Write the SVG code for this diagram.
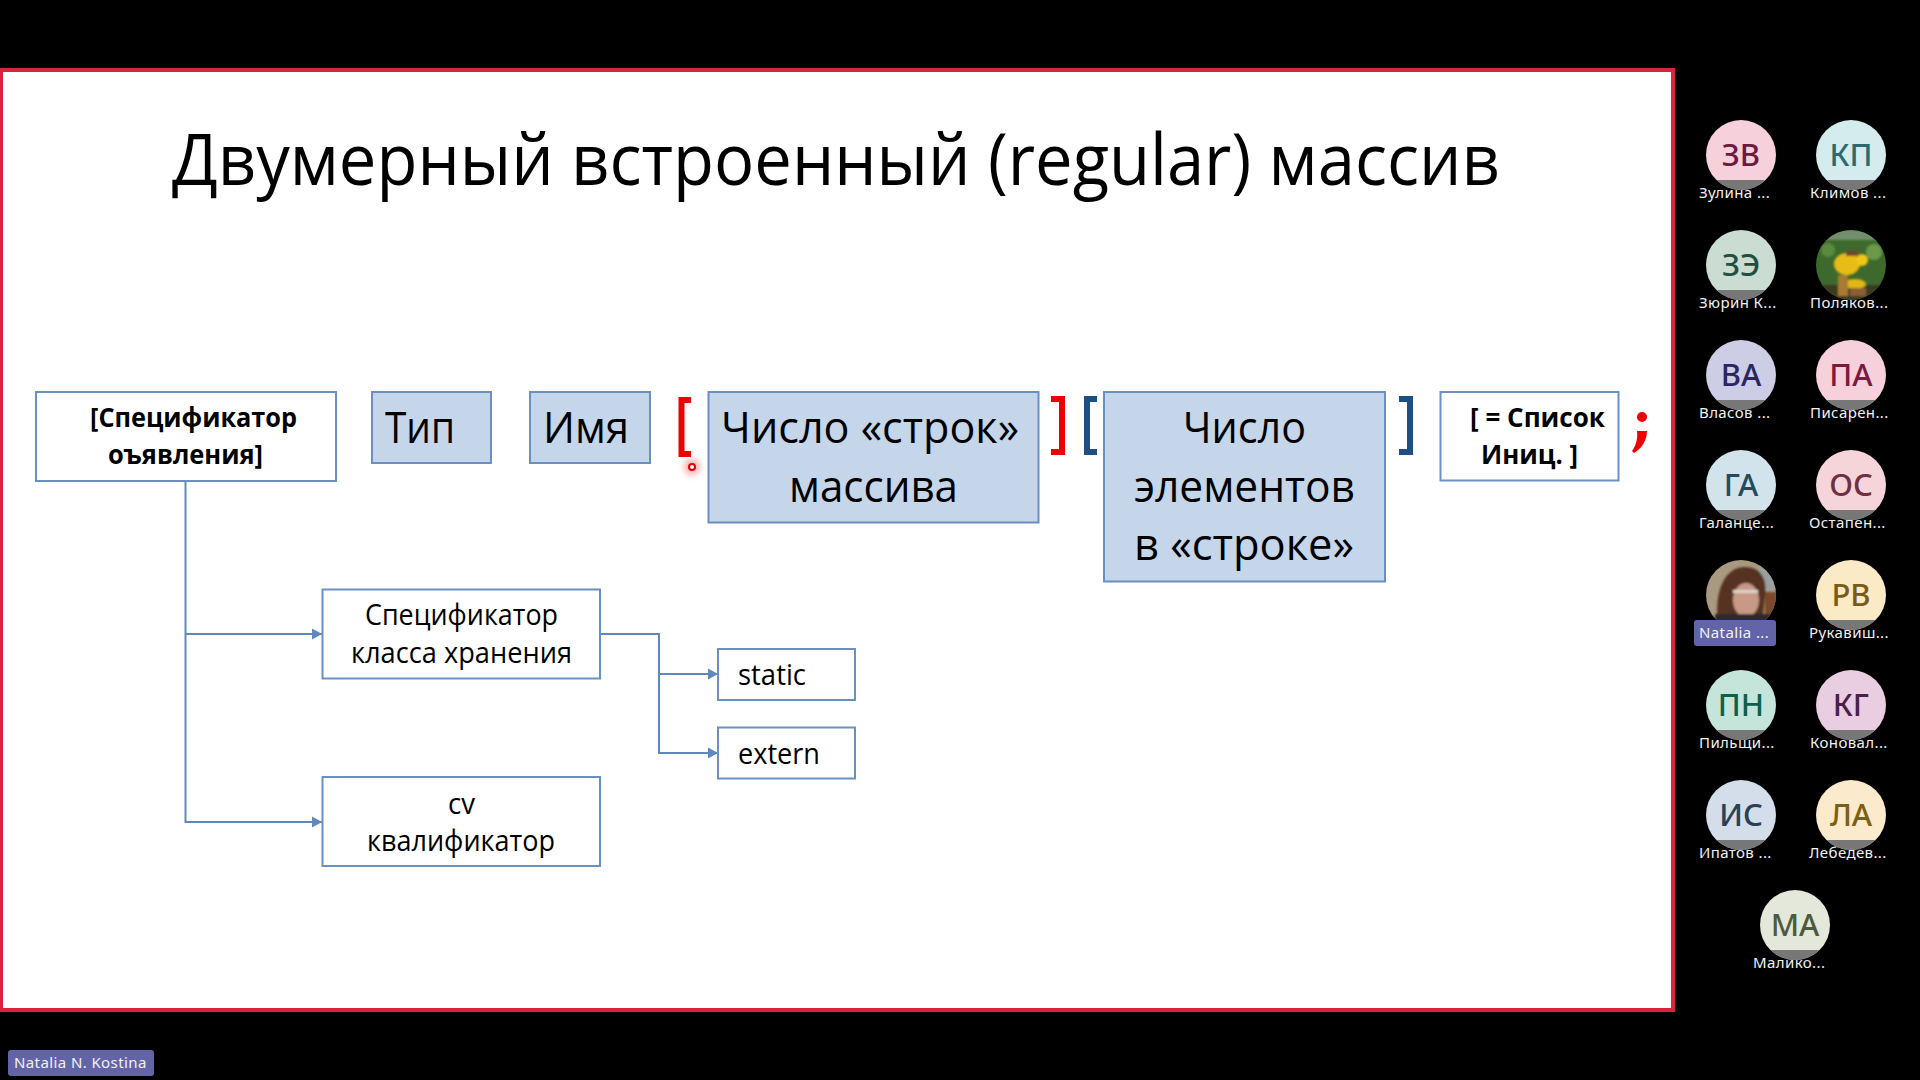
<svg xmlns="http://www.w3.org/2000/svg" width="1920" height="1080" viewBox="0 0 1920 1080">
<style>
.t{font-family:"Open Sans","Noto Sans","Liberation Sans",sans-serif;fill:#000}
.l{font-size:44px}.m{font-size:29px}.b{font-size:27px;font-weight:700}
.f{fill:#c5d5ea;stroke:#6a90c2;stroke-width:2}
.w{fill:#fff;stroke:#6a90c2;stroke-width:2}
.c{fill:none;stroke:#5f88bd;stroke-width:2}
.n{font-family:"Noto Sans","Open Sans",sans-serif;font-size:15px;letter-spacing:.4px;fill:#f2f2f2}
.i{font-family:"Noto Sans","Open Sans",sans-serif;font-size:31px;font-weight:500;text-anchor:middle}
</style>
<defs>
<marker id="a" markerUnits="userSpaceOnUse" markerWidth="11" markerHeight="12" refX="10" refY="6" orient="auto"><path d="M0,0.500L10,6L0,11.500Z" fill="#5f88bd"/></marker>
<path id="band" d="M-24.5,25A35,35 0 0 0 24.5,25Z" fill="#777"/>
<clipPath id="c1"><circle cx="1851" cy="265" r="35"/></clipPath>
<clipPath id="c2"><circle cx="1741" cy="595" r="35"/></clipPath>
<filter id="bl" x="-20%" y="-20%" width="140%" height="140%"><feGaussianBlur stdDeviation="1"/></filter>
<filter id="gl" x="-100%" y="-100%" width="300%" height="300%"><feGaussianBlur stdDeviation="3"/></filter>
</defs>
<rect width="1920" height="1080" fill="#000"/>
<rect id="slide" x="1" y="70" width="1672" height="940" fill="#fff" stroke="#d9243f" stroke-width="4"/>
<text class="t" x="172" y="185" font-size="72" textLength="1328" lengthAdjust="spacingAndGlyphs">Двумерный встроенный (regular) массив</text>

<g id="connectors">
<path class="c" d="M185.500,481V822H322" marker-end="url(#a)"/>
<path class="c" d="M185.500,634H322" marker-end="url(#a)"/>
<path class="c" d="M600,634H659V753H718" marker-end="url(#a)"/>
<path class="c" d="M659,674H718" marker-end="url(#a)"/>
</g>

<g id="n-spec"><rect class="w" x="36" y="392" width="300" height="89"/>
<text class="t b" x="90" y="427" textLength="207" lengthAdjust="spacingAndGlyphs">[Спецификатор</text>
<text class="t b" x="108" y="464" textLength="155" lengthAdjust="spacingAndGlyphs">оъявления]</text></g>
<g id="n-type"><rect class="f" x="372" y="392" width="119" height="71"/>
<text class="t l" x="385" y="443" textLength="70" lengthAdjust="spacingAndGlyphs">Тип</text></g>
<g id="n-name"><rect class="f" x="530" y="392" width="120" height="71"/>
<text class="t l" x="543" y="443" textLength="86" lengthAdjust="spacingAndGlyphs">Имя</text></g>
<g id="n-rows"><rect class="f" x="708.500" y="392" width="330" height="130.500"/>
<text class="t l" x="721" y="443" textLength="298" lengthAdjust="spacingAndGlyphs">Число «строк»</text>
<text class="t l" x="789" y="502" textLength="169" lengthAdjust="spacingAndGlyphs">массива</text></g>
<g id="n-cols"><rect class="f" x="1104" y="392" width="281" height="189.500"/>
<text class="t l" x="1183" y="443" textLength="123" lengthAdjust="spacingAndGlyphs">Число</text>
<text class="t l" x="1134" y="502" textLength="221" lengthAdjust="spacingAndGlyphs">элементов</text>
<text class="t l" x="1134" y="560" textLength="220" lengthAdjust="spacingAndGlyphs">в «строке»</text></g>
<g id="n-init"><rect class="w" x="1440.500" y="392" width="178" height="88.500"/>
<text class="t b" x="1470" y="427" textLength="135" lengthAdjust="spacingAndGlyphs">[ = Список</text>
<text class="t b" x="1481" y="464" textLength="97" lengthAdjust="spacingAndGlyphs">Иниц. ]</text></g>
<g id="n-storage"><rect class="w" x="322.500" y="589.500" width="277.500" height="89"/>
<text class="t m" x="365" y="625" textLength="193" lengthAdjust="spacingAndGlyphs">Спецификатор</text>
<text class="t m" x="351" y="663" textLength="221" lengthAdjust="spacingAndGlyphs">класса хранения</text></g>
<g id="n-cv"><rect class="w" x="322.500" y="777" width="277.500" height="89"/>
<text class="t m" x="448" y="814" textLength="27" lengthAdjust="spacingAndGlyphs">cv</text>
<text class="t m" x="367" y="851" textLength="188" lengthAdjust="spacingAndGlyphs">квалификатор</text></g>
<g id="n-static"><rect class="w" x="718" y="649" width="137" height="51"/>
<text class="t m" x="738" y="685" textLength="68" lengthAdjust="spacingAndGlyphs">static</text></g>
<g id="n-extern"><rect class="w" x="718" y="727.500" width="137" height="51"/>
<text class="t m" x="738" y="764" textLength="82" lengthAdjust="spacingAndGlyphs">extern</text></g>

<g id="brackets" fill="none" stroke-width="6">
<path d="M691,400H681.500V454H691" stroke="#f00000"/>
<path d="M1051,399H1062V452H1051" stroke="#f00000"/>
<path d="M1097,399H1087V452H1097" stroke="#1f4e82"/>
<path d="M1399,399H1410V452H1399" stroke="#1f4e82"/>
</g>
<g id="semicolon" fill="#f00000"><circle cx="1642" cy="417" r="5"/><path d="M1637,431H1647C1647,441 1641,449 1634,453L1632,451C1636,446 1638,438 1637,431Z"/></g>
<g id="cursor"><circle cx="692" cy="467" r="8" fill="#ff6b6b" opacity=".55" filter="url(#gl)"/><circle cx="692" cy="467" r="3" fill="#fff" stroke="#e00000" stroke-width="2"/></g>

<g id="p-zv"><circle cx="1741" cy="155" r="35" fill="#f6d1dc"/><use href="#band" x="1741" y="155"/><text class="i" x="1741" y="166" fill="#6b1a40">ЗВ</text><text class="n" x="1699" y="198">Зулина ...</text></g>
<g id="p-kp"><circle cx="1851" cy="155" r="35" fill="#d5ecee"/><use href="#band" x="1851" y="155"/><text class="i" x="1851" y="166" fill="#2b6a70">КП</text><text class="n" x="1810" y="198">Климов ...</text></g>
<g id="p-ze"><circle cx="1741" cy="265" r="35" fill="#cbdcd3"/><use href="#band" x="1741" y="265"/><text class="i" x="1741" y="276" fill="#1f5040">ЗЭ</text><text class="n" x="1699" y="308">Зюрин К...</text></g>
<g id="p-pol"><circle cx="1851" cy="265" r="35" fill="#3d6a2c"/><g clip-path="url(#c1)"><g filter="url(#bl)"><rect x="1816" y="230" width="70" height="10" fill="#6f8f6a"/><circle cx="1828" cy="250" r="7" fill="#5a8a40"/><circle cx="1874" cy="252" r="8" fill="#6a9a48"/><rect x="1816" y="285" width="70" height="15" fill="#3a3a20"/><ellipse cx="1847" cy="264" rx="13" ry="11" fill="#e8bc14"/><circle cx="1862" cy="260" r="6" fill="#f0c818"/><ellipse cx="1855" cy="284" rx="11" ry="5" fill="#e0b818"/><rect x="1846" y="250" width="12" height="6" fill="#6a4a30"/><path d="M1838,275L1848,275L1848,296H1838Z" fill="#a87a30"/><path d="M1850,288L1866,288L1866,296H1850Z" fill="#8a6030"/></g></g><text class="n" x="1810" y="308">Поляков...</text></g>
<g id="p-va"><circle cx="1741" cy="375" r="35" fill="#cdcde6"/><use href="#band" x="1741" y="375"/><text class="i" x="1741" y="386" fill="#2c2560">ВА</text><text class="n" x="1699" y="418">Власов ...</text></g>
<g id="p-pa"><circle cx="1851" cy="375" r="35" fill="#f6d1dc"/><use href="#band" x="1851" y="375"/><text class="i" x="1851" y="386" fill="#7a1a3f">ПА</text><text class="n" x="1810" y="418">Писарен...</text></g>
<g id="p-ga"><circle cx="1741" cy="485" r="35" fill="#d3e3ec"/><use href="#band" x="1741" y="485"/><text class="i" x="1741" y="496" fill="#254a58">ГА</text><text class="n" x="1699" y="528">Галанце...</text></g>
<g id="p-os"><circle cx="1851" cy="485" r="35" fill="#f6d5da"/><use href="#band" x="1851" y="485"/><text class="i" x="1851" y="496" fill="#70303f">ОС</text><text class="n" x="1809" y="528">Остапен...</text></g>
<g id="p-nat"><circle cx="1741" cy="595" r="35" fill="#a89a80"/><g clip-path="url(#c2)"><g filter="url(#bl)"><rect x="1760" y="560" width="20" height="30" fill="#9aa0a0"/><rect x="1765" y="592" width="15" height="28" fill="#7a4a2a"/><path d="M1718,625C1714,590 1725,567 1745,567C1760,567 1768,578 1765,596L1762,625Z" fill="#553320"/><ellipse cx="1746" cy="600" rx="13" ry="17" fill="#c89a85"/><rect x="1733" y="590" width="25" height="3" fill="#ddd5cc"/><rect x="1715" y="614" width="55" height="8" fill="#2a2a2a"/></g></g><rect x="1694" y="620" width="82" height="26" rx="3" fill="#6264a7"/><text class="n" x="1699" y="638">Natalia ...</text></g>
<g id="p-rv"><circle cx="1851" cy="595" r="35" fill="#fbeac6"/><use href="#band" x="1851" y="595"/><text class="i" x="1851" y="606" fill="#7a5a14">РВ</text><text class="n" x="1809" y="638">Рукавиш...</text></g>
<g id="p-pn"><circle cx="1741" cy="705" r="35" fill="#c6e5da"/><use href="#band" x="1741" y="705"/><text class="i" x="1741" y="716" fill="#0f6048">ПН</text><text class="n" x="1699" y="748">Пильщи...</text></g>
<g id="p-kg"><circle cx="1851" cy="705" r="35" fill="#e9cde0"/><use href="#band" x="1851" y="705"/><text class="i" x="1851" y="716" fill="#4a2048">КГ</text><text class="n" x="1810" y="748">Коновал...</text></g>
<g id="p-is"><circle cx="1741" cy="815" r="35" fill="#d3deea"/><use href="#band" x="1741" y="815"/><text class="i" x="1741" y="826" fill="#2a4058">ИС</text><text class="n" x="1699" y="858">Ипатов ...</text></g>
<g id="p-la"><circle cx="1851" cy="815" r="35" fill="#fbeacb"/><use href="#band" x="1851" y="815"/><text class="i" x="1851" y="826" fill="#7a5f14">ЛА</text><text class="n" x="1809" y="858">Лебедев...</text></g>
<g id="p-ma"><circle cx="1795" cy="925" r="35" fill="#e3e8da"/><use href="#band" x="1795" y="925"/><text class="i" x="1795" y="936" fill="#505a3a">МА</text><text class="n" x="1753" y="968">Малико...</text></g>

<g id="presenter"><rect x="8" y="1050" width="146" height="26" rx="3" fill="#6264a7"/><text class="n" x="14" y="1068">Natalia N. Kostina</text></g>
</svg>
